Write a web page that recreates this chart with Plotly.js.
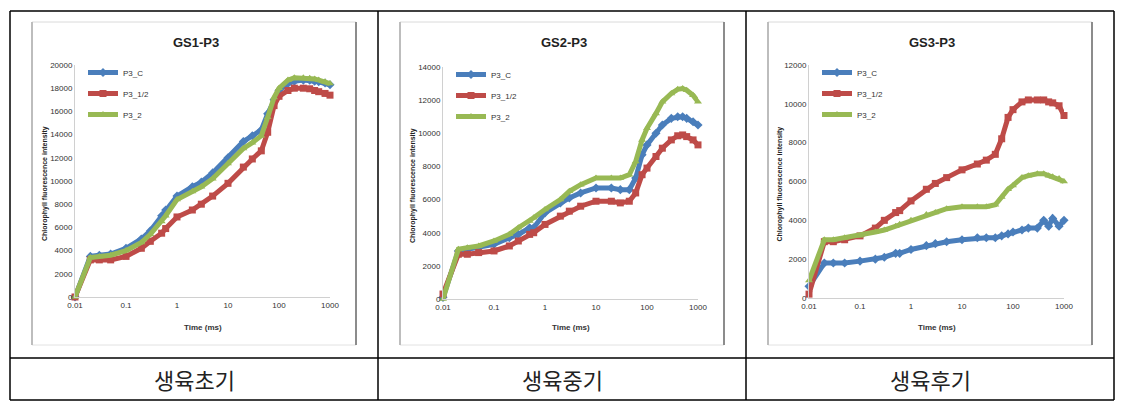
<!DOCTYPE html>
<html>
<head>
<meta charset="utf-8">
<script src="https://cdn.plot.ly/plotly-3.0.1.min.js"></script>
<style>
html,body{margin:0;padding:0;background:#fff;}
#chart{width:1129px;height:411px;}
</style>
</head>
<body>
<div id="chart"></div>
<script>
// ---- data ----
const time = [0.01,0.02,0.03,0.05,0.1,0.2,0.3,0.5,0.6,1,2,3,5,10,20,30,45,60,80,100,150,200,300,400,500,600,800,1000];
const seriesNames = ["P3_C","P3_1/2","P3_2"];
const panelTitles = ["GS1-P3","GS2-P3","GS3-P3"];
const captions = ["생육초기","생육중기","생육후기"];
const xTickVals = [0.01,0.1,1,10,100,1000];
const xTickText = ["0.01","0.1","1","10","100","1000"];
const yMax = [20000,14000,12000];
const yStep = [2000,2000,2000];

const gs1_C    = [0,3500,3600,3700,4200,5000,5700,7000,7500,8700,9500,9900,10700,12000,13400,13900,14400,15800,17000,17800,18400,18600,18700,18700,18600,18550,18450,18300];
const gs1_half = [0,3200,3200,3200,3500,4200,4800,5500,5900,6900,7500,8000,8700,9800,11200,11900,12600,14200,16500,17300,17800,18000,18000,17950,17800,17700,17550,17400];
const gs1_2    = [0,3400,3500,3600,4000,4700,5400,6500,7000,8400,9100,9500,10200,11500,12800,13300,13900,15500,17200,18000,18700,18900,18900,18850,18800,18700,18550,18400];

const gs2_C    = [100,2900,3000,3100,3300,3700,3900,4300,4300,5200,5800,6100,6400,6700,6700,6600,6600,7300,8700,9300,10000,10500,10900,11000,11000,10900,10700,10500];
const gs2_half = [300,2700,2700,2800,2900,3200,3500,3900,4000,4500,5000,5300,5600,5900,5900,5800,5900,6400,7500,7900,8600,9100,9600,9850,9900,9800,9600,9300];
const gs2_2    = [0,3000,3100,3200,3500,3900,4300,4700,4900,5400,6000,6500,6900,7300,7300,7300,7500,8300,9600,10300,11200,11900,12400,12650,12700,12600,12300,11900];

const gs3_C    = [600,1800,1800,1800,1900,2000,2100,2300,2300,2500,2700,2800,2900,3000,3100,3100,3100,3200,3300,3400,3500,3600,3600,4000,3700,4100,3700,4000];
const gs3_half = [200,2900,2900,3000,3200,3600,4000,4400,4500,5000,5600,5900,6200,6600,6900,7100,7400,8200,9300,9700,10100,10200,10200,10200,10100,10050,9900,9400];
const gs3_2    = [900,3000,3000,3100,3200,3400,3500,3700,3800,4000,4300,4400,4600,4700,4700,4700,4800,5200,5600,5800,6200,6300,6400,6400,6300,6250,6150,6000];

const panelData = [[gs1_C,gs1_half,gs1_2],[gs2_C,gs2_half,gs2_2],[gs3_C,gs3_half,gs3_2]];

// ---- styles ----
const colors = ["#4A7EBB","#BE4B48","#98B954"];
const symbols = ["diamond","square","triangle-up"];
const W = 1129, H = 411;
const px = v => v / W;
const py = v => 1 - v / H;

// plot area boxes in pixels: [left, right, top, bottom]
const plotBox = [[75,330,65,297],[443,698,67,299],[809,1064,65,298]];
// chart frames [left,right,top,bottom]
const frames = [[32,356,22,345],[400,724,22,345],[768,1092,22,345]];
const yTitleX = [45,413,780];

const traces = [];
const layout = {
  width: W, height: H,
  margin: {l:0,r:0,t:0,b:0},
  paper_bgcolor: "#ffffff",
  plot_bgcolor: "rgba(0,0,0,0)",
  font: {family: "Liberation Sans, Arial, sans-serif", color: "#333"},
  shapes: [], annotations: [],
  showlegend: true
};

panelData.forEach((series, p) => {
  const sfx = p === 0 ? "" : String(p + 1);
  const xa = "x" + sfx, ya = "y" + sfx;
  const lg = "legend" + sfx;
  series.forEach((vals, s) => {
    traces.push({
      x: time, y: vals, xaxis: xa, yaxis: ya,
      type: "scatter", mode: "lines+markers",
      name: seriesNames[s],
      legend: lg, legendgroup: "g" + p + "_" + s,
      line: {color: colors[s], width: 5},
      marker: {symbol: symbols[s], size: 7, color: colors[s]},
      cliponaxis: false
    });
  });
  const [l, r, t, b] = plotBox[p];
  layout["xaxis" + sfx] = {
    type: "log", range: [-2, 3], domain: [px(l), px(r)], anchor: ya,
    tickvals: xTickVals, ticktext: xTickText,
    showgrid: false, zeroline: false,
    showline: true, linecolor: "#D0D0D0", linewidth: 1,
    ticks: "", tickfont: {size: 8, color: "#333"}
  };
  layout["yaxis" + sfx] = {
    range: [0, yMax[p]], domain: [py(b), py(t)], anchor: xa,
    dtick: yStep[p], tick0: 0, tickformat: "d",
    showgrid: false, zeroline: false,
    showline: true, linecolor: "#D0D0D0", linewidth: 1,
    ticks: "", tickfont: {size: 8, color: "#333"}
  };
  layout[lg] = {
    x: px(l + 8), y: py(t - 7), xanchor: "left", yanchor: "top",
    xref: "paper", yref: "paper",
    bgcolor: "rgba(0,0,0,0)", font: {size: 8, color: "#333"},
    itemwidth: 30, traceorder: "grouped", tracegroupgap: 2
  };
  // title
  layout.annotations.push({
    xref: "paper", yref: "paper", x: px((frames[p][0] + frames[p][1]) / 2 + 2), y: py(43),
    text: "<b>" + panelTitles[p] + "</b>", showarrow: false,
    xanchor: "center", yanchor: "middle", font: {size: 13, color: "#222"}
  });
  // x title
  layout.annotations.push({
    xref: "paper", yref: "paper", x: px((l + r) / 2), y: py(327),
    text: "<b>Time (ms)</b>", showarrow: false,
    xanchor: "center", yanchor: "middle", font: {size: 8, color: "#333"}
  });
  // y title
  layout.annotations.push({
    xref: "paper", yref: "paper", x: px(yTitleX[p]), y: py((t + b) / 2 + 3),
    text: "<b>Chlorophyll fluorescence intensity</b>", showarrow: false, textangle: -90,
    xanchor: "center", yanchor: "middle", font: {size: 7, color: "#222"}
  });
  // caption
  const cellL = [10,378,746][p], cellR = [378,746,1114][p];
  layout.annotations.push({
    xref: "paper", yref: "paper", x: px((cellL + cellR) / 2), y: py(379),
    text: captions[p], showarrow: false,
    xanchor: "center", yanchor: "middle",
    font: {family: "Noto Sans CJK KR, sans-serif", size: 22, color: "#222"}
  });
  // chart frame
  const [fl, fr, ft, fb] = frames[p];
  layout.shapes.push({type: "line", xref: "paper", yref: "paper", x0: px(fl), x1: px(fr), y0: py(ft), y1: py(ft), line: {color: "#DADADA", width: 1}});
  layout.shapes.push({type: "line", xref: "paper", yref: "paper", x0: px(fl), x1: px(fr), y0: py(fb), y1: py(fb), line: {color: "#E2E2E2", width: 1}});
  layout.shapes.push({type: "line", xref: "paper", yref: "paper", x0: px(fl), x1: px(fl), y0: py(ft), y1: py(fb), line: {color: "#BDBDBD", width: 2}});
  layout.shapes.push({type: "line", xref: "paper", yref: "paper", x0: px(fr), x1: px(fr), y0: py(ft), y1: py(fb), line: {color: "#8C8C8C", width: 2}});
});

// table lines
const tLines = [
  [10,1114,11,11],[10,1114,358,358],[10,1114,400,400],
  [10,10,11,400],[378,378,11,400],[746,746,11,400],[1114,1114,11,400]
];
tLines.forEach(([x0,x1,y0,y1]) => {
  layout.shapes.push({type: "line", xref: "paper", yref: "paper", x0: px(x0), x1: px(x1), y0: py(y0), y1: py(y1), line: {color: "#000", width: 1.5}});
});

Plotly.newPlot("chart", traces, layout, {displayModeBar: false, staticPlot: true});
</script>
</body>
</html>
